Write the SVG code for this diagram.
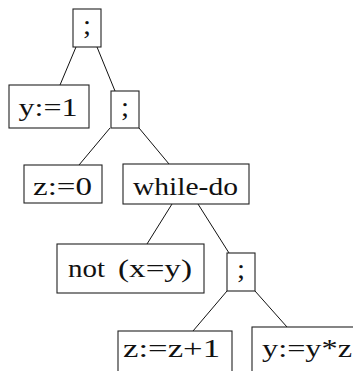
<svg xmlns="http://www.w3.org/2000/svg" width="353" height="371" viewBox="0 0 353 371">
<style>
rect{fill:#fff;stroke:#222;stroke-width:1.1}
line{stroke:#111;stroke-width:1}
text{font-family:"Liberation Serif","Times New Roman",serif;font-size:25px;fill:#111;text-anchor:middle}
text.s{font-size:28px}
</style>
<g id="connectors">
<line x1="76" y1="47" x2="60" y2="85"/>
<line x1="97" y1="47" x2="115" y2="91"/>
<line x1="110" y1="128" x2="79" y2="165"/>
<line x1="139" y1="128" x2="169" y2="164"/>
<line x1="172" y1="204" x2="147" y2="244"/>
<line x1="198" y1="204" x2="229" y2="253"/>
<line x1="227" y1="291" x2="193" y2="331"/>
<line x1="255" y1="291" x2="287" y2="327"/>
</g>
<g id="n1"><rect x="73" y="9" width="28" height="38"/><text class="s" x="87" y="34" textLength="8" lengthAdjust="spacingAndGlyphs">;</text></g>
<g id="n2"><rect x="9" y="85" width="80" height="43"/><text x="48" y="116" textLength="59" lengthAdjust="spacingAndGlyphs">y:=1</text></g>
<g id="n3"><rect x="111" y="91" width="28" height="37"/><text class="s" x="125" y="116" textLength="8" lengthAdjust="spacingAndGlyphs">;</text></g>
<g id="n4"><rect x="24" y="165" width="78" height="38"/><text x="62.5" y="195" textLength="59" lengthAdjust="spacingAndGlyphs">z:=0</text></g>
<g id="n5"><rect x="123" y="164" width="126" height="40"/><text x="185.5" y="195" textLength="105" lengthAdjust="spacingAndGlyphs">while-do</text></g>
<g id="n6"><rect x="57" y="244" width="147" height="49"/><text x="86.5" y="277" textLength="37" lengthAdjust="spacingAndGlyphs">not</text><text x="155" y="277" textLength="74" lengthAdjust="spacingAndGlyphs">(x=y)</text></g>
<g id="n7"><rect x="227" y="253" width="28" height="38"/><text class="s" x="241" y="278" textLength="8" lengthAdjust="spacingAndGlyphs">;</text></g>
<g id="n8"><rect x="118" y="331" width="114" height="45"/><text x="171.5" y="357" textLength="97" lengthAdjust="spacingAndGlyphs">z:=z+1</text></g>
<g id="n9"><rect x="252" y="327" width="110" height="50"/><text x="307" y="357" textLength="90" lengthAdjust="spacingAndGlyphs">y:=y*z</text></g>
</svg>
